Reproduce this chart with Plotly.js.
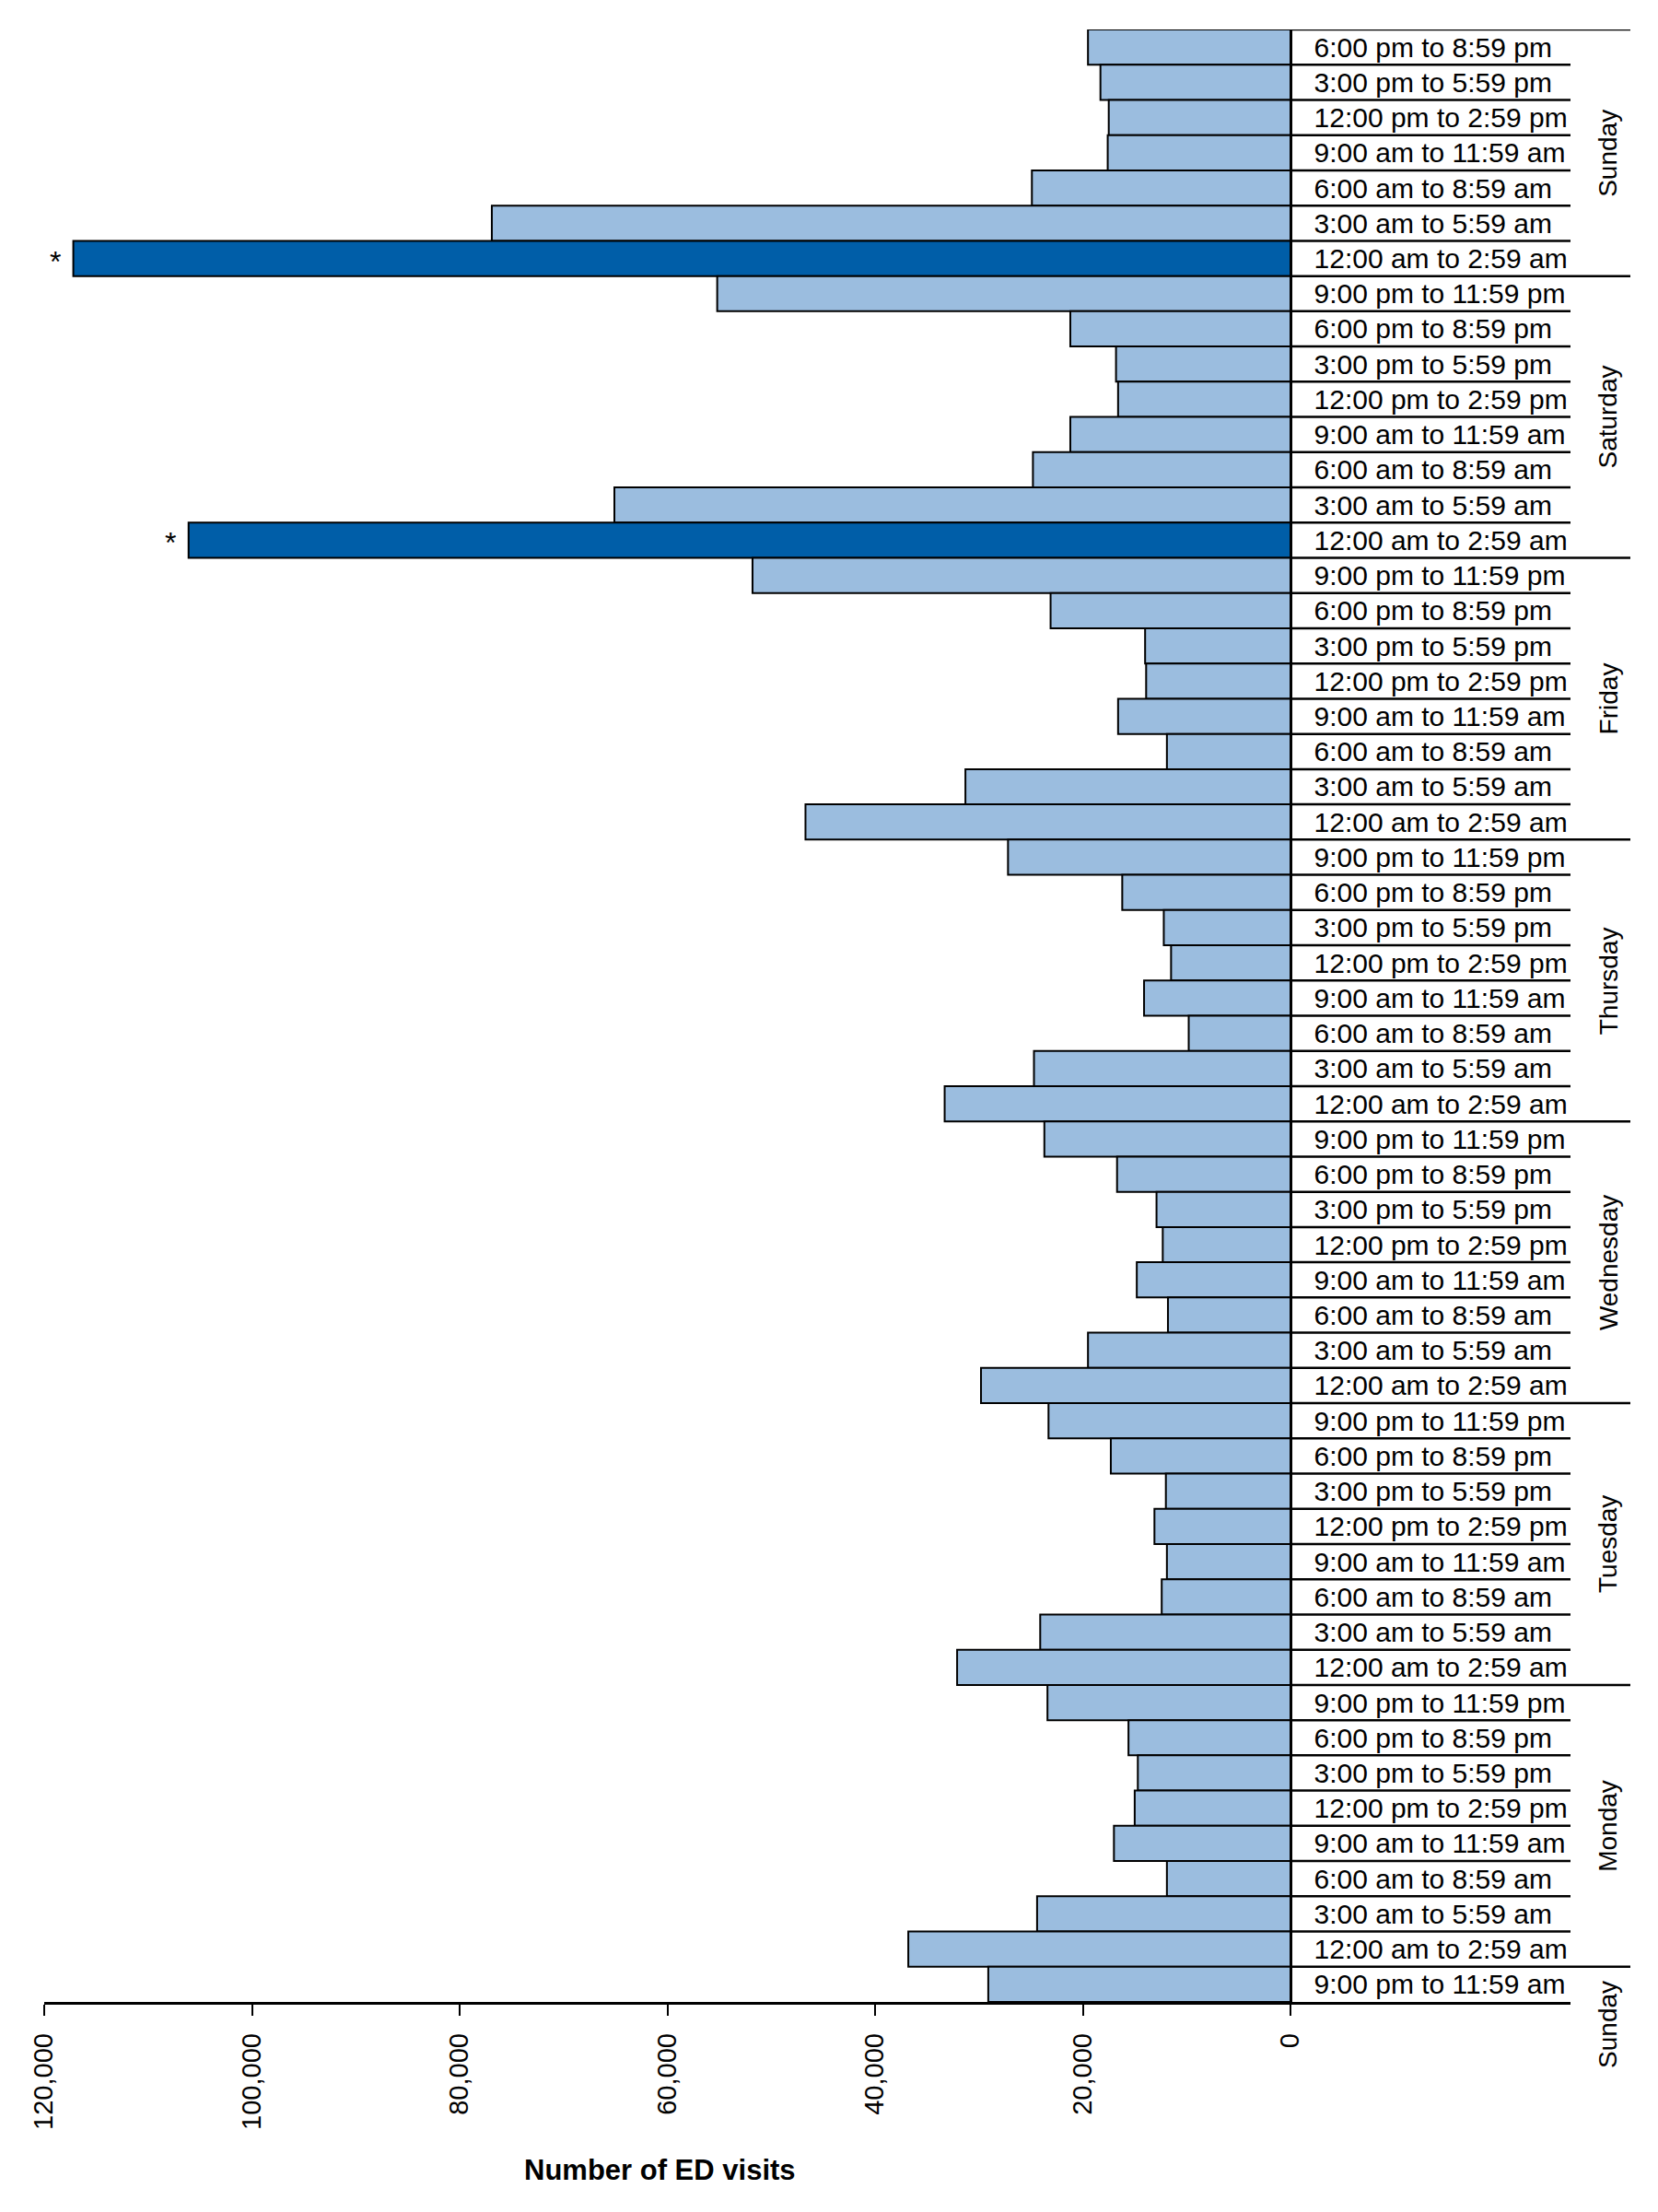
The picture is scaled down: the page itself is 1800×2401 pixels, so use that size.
<!DOCTYPE html>
<html>
<head>
<meta charset="utf-8">
<script src="https://cdn.plot.ly/plotly-3.0.1.min.js"></script>
<style>
  html, body { margin: 0; padding: 0; background: #fff; }
</style>
</head>
<body>
<div id="plot" style="width:1800px;height:2401px;"></div>
<script>
// DATA =========================================================
// rows listed top to bottom, as in the figure
var slotLabels = [
    "6:00 pm to 8:59 pm", "3:00 pm to 5:59 pm", "12:00 pm to 2:59 pm", "9:00 am to 11:59 am",
    "6:00 am to 8:59 am", "3:00 am to 5:59 am", "12:00 am to 2:59 am",
    "9:00 pm to 11:59 pm", "6:00 pm to 8:59 pm", "3:00 pm to 5:59 pm", "12:00 pm to 2:59 pm",
    "9:00 am to 11:59 am", "6:00 am to 8:59 am", "3:00 am to 5:59 am", "12:00 am to 2:59 am",
    "9:00 pm to 11:59 pm", "6:00 pm to 8:59 pm", "3:00 pm to 5:59 pm", "12:00 pm to 2:59 pm",
    "9:00 am to 11:59 am", "6:00 am to 8:59 am", "3:00 am to 5:59 am", "12:00 am to 2:59 am",
    "9:00 pm to 11:59 pm", "6:00 pm to 8:59 pm", "3:00 pm to 5:59 pm", "12:00 pm to 2:59 pm",
    "9:00 am to 11:59 am", "6:00 am to 8:59 am", "3:00 am to 5:59 am", "12:00 am to 2:59 am",
    "9:00 pm to 11:59 pm", "6:00 pm to 8:59 pm", "3:00 pm to 5:59 pm", "12:00 pm to 2:59 pm",
    "9:00 am to 11:59 am", "6:00 am to 8:59 am", "3:00 am to 5:59 am", "12:00 am to 2:59 am",
    "9:00 pm to 11:59 pm", "6:00 pm to 8:59 pm", "3:00 pm to 5:59 pm", "12:00 pm to 2:59 pm",
    "9:00 am to 11:59 am", "6:00 am to 8:59 am", "3:00 am to 5:59 am", "12:00 am to 2:59 am",
    "9:00 pm to 11:59 pm", "6:00 pm to 8:59 pm", "3:00 pm to 5:59 pm", "12:00 pm to 2:59 pm",
    "9:00 am to 11:59 am", "6:00 am to 8:59 am", "3:00 am to 5:59 am", "12:00 am to 2:59 am",
    "9:00 pm to 11:59 am"
];

var visits = [
    19500, 18300, 17500, 17600, 24900, 76900, 117200,
    55200, 21200, 16800, 16600, 21200, 24800, 65100, 106100,
    51800, 23100, 14000, 13900, 16600, 11900, 31300, 46700,
    27200, 16200, 12200, 11500, 14100, 9800, 24700, 33300,
    23700, 16700, 12900, 12300, 14800, 11800, 19500, 29800,
    23300, 17300, 12000, 13100, 11900, 12400, 24100, 32100,
    23400, 15600, 14700, 15000, 17000, 11900, 24400, 36800,
    29100
];

var flagged = [6, 14];   // rows marked with *

var dayNames = ["Sunday", "Saturday", "Friday", "Thursday", "Wednesday", "Tuesday", "Monday", "Sunday"];
var dayFirst = [0, 7, 15, 23, 31, 39, 47, 55];
var dayLast  = [6, 14, 22, 30, 38, 46, 54, 55];

var xTicks = [0, 20000, 40000, 60000, 80000, 100000, 120000];

// LAYOUT CONSTANTS =============================================
var W = 1800, H = 2401;
var mL = 48, mR = 95, mT = 32, mB = 228;
var plotW = W - mL - mR, plotH = H - mT - mB;
var xMax = 120000, labelRoom = 26960;   // space right of zero for slot labels
var zeroPaper = xMax / (xMax + labelRoom);

function pxToPaperX(px) { return (px - mL) / plotW; }
function pxToPaperY(py) { return (H - mB - py) / plotH; }

var font = '"Liberation Sans", Arial, Helvetica, sans-serif';

// TRACE ========================================================
var idx = visits.map(function (v, i) { return i; });
var colors = visits.map(function (v, i) {
    return flagged.indexOf(i) >= 0 ? '#005ea8' : '#9bbddf';
});

var data = [{
    type: 'bar',
    orientation: 'h',
    x: visits,
    y: idx,
    marker: { color: colors, line: { color: '#000', width: 2 } },
    hoverinfo: 'skip',
    showlegend: false
}];

// SHAPES =======================================================
var shapes = [];
var dayEnds = [-0.5].concat(dayLast.slice(0, dayLast.length - 1).map(function (d) { return d + 0.5; }));
for (var i = -1; i < visits.length - 1; i++) {
    var yb = i + 0.5;
    if (dayEnds.indexOf(yb) >= 0) {
        shapes.push({
            type: 'line', xref: 'paper', yref: 'y',
            x0: zeroPaper, x1: pxToPaperX(1770), y0: yb, y1: yb,
            line: { color: '#000', width: 2.5 }
        });
    } else {
        shapes.push({
            type: 'line', xref: 'x', yref: 'y',
            x0: 0, x1: -labelRoom, y0: yb, y1: yb,
            line: { color: '#000', width: 2.5 }
        });
    }
}

// ANNOTATIONS ==================================================
var annotations = [];
flagged.forEach(function (i) {
    annotations.push({
        x: visits[i], y: i, xref: 'x', yref: 'y',
        text: '*', showarrow: false, xanchor: 'right', xshift: -12, yshift: -3,
        font: { family: font, size: 32, color: '#000' }
    });
});
dayNames.forEach(function (name, k) {
    var single = dayFirst[k] === dayLast[k];
    annotations.push({
        x: pxToPaperX(1746), xref: 'paper', yref: 'y',
        y: (dayFirst[k] + dayLast[k]) / 2,
        yshift: single ? -43 : 0,
        text: name, textangle: -90, showarrow: false,
        xanchor: 'center', yanchor: 'middle',
        font: { family: font, size: 28, color: '#000' }
    });
});
annotations.push({
    x: xMax / 2, xref: 'x', xshift: -8, y: pxToPaperY(2355), yref: 'paper',
    text: 'Number of ED visits', showarrow: false,
    xanchor: 'center', yanchor: 'middle',
    font: { family: font, size: 31, color: '#000', weight: 'bold' }
});

// PLOT =========================================================
var layout = {
    width: W,
    height: H,
    margin: { l: mL, r: mR, t: mT, b: mB },
    paper_bgcolor: '#fff',
    plot_bgcolor: '#fff',
    bargap: 0,
    showlegend: false,
    xaxis: {
        range: [xMax, -labelRoom],
        tickvals: xTicks,
        tickformat: ',d',
        tickangle: -90,
        ticks: 'outside',
        ticklen: 12,
        tickwidth: 2,
        tickcolor: '#000',
        ticklabelstandoff: 8,
        showline: true,
        linewidth: 2.5,
        linecolor: '#000',
        showgrid: false,
        zeroline: false,
        tickfont: { family: font, size: 29, color: '#000' },
        fixedrange: true
    },
    yaxis: {
        range: [visits.length - 0.5, -0.5],
        anchor: 'free',
        position: zeroPaper,
        side: 'right',
        tickvals: idx,
        ticktext: slotLabels,
        ticks: '',
        ticklabelstandoff: 18,
        showline: true,
        linewidth: 2.5,
        linecolor: '#000',
        showgrid: false,
        zeroline: false,
        tickfont: { family: font, size: 30, color: '#000' },
        fixedrange: true
    },
    shapes: shapes,
    annotations: annotations
};

Plotly.newPlot('plot', data, layout, { displayModeBar: false, staticPlot: true });
</script>
</body>
</html>
